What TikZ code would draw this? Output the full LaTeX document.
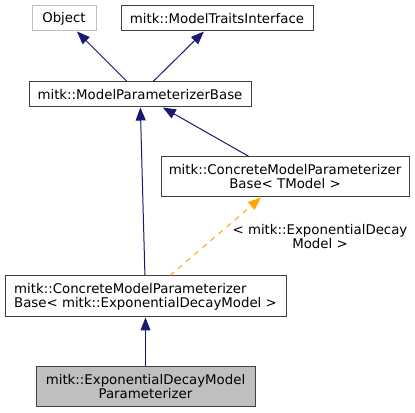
\documentclass[tikz,border=0pt]{standalone}
\usepackage{fontspec}
\setmainfont{DejaVu Sans}
\usepackage{xcolor}
\usepackage{tikz}
\usetikzlibrary{arrows.meta, positioning}
\definecolor{edgeblue}{HTML}{191970}
\definecolor{boxgray}{HTML}{404040}
\definecolor{nodegray}{HTML}{BFBFBF}
\definecolor{dashorange}{HTML}{FFA500}

\begin{document}
\begin{tikzpicture}[x=0.75pt, y=-0.75pt,
        every node/.style={draw=boxgray,
        fill=white,
        line width=0.75pt,
        inner sep=0pt,
        minimum height=18.75pt,
        align=center,
        font=\fontsize{10}{10.5}\selectfont},
        inherit/.style={draw=edgeblue, line width=0.75pt, -{Triangle[length=9.75pt,width=7.5pt]}},
        template/.style={draw=dashorange, line width=0.75pt, dash pattern=on 4pt off 4pt, -{Triangle[length=9.75pt,width=7.5pt]}}]
        \useasboundingbox (0,0) rectangle (415,413);
        \node[draw=nodegray, minimum width=48pt] (obj) at (64,18.5) {Object};
        \node[right=18pt of obj, minimum width=144pt] (mti) {mitk::ModelTraitsInterface};
        \node[minimum width=166.5pt] (mpb) at (140,94.5) {mitk::ModelParameterizerBase};
        \node[minimum width=186pt, minimum height=30pt] (cmpt) at (285,177) {mitk::ConcreteModelParameterizer\\Base< TModel >};
        \node[minimum width=210.75pt, minimum height=30.75pt, align=left] (cmpe) at (145.5,296.5) {mitk::ConcreteModelParameterizer\\Base< mitk::ExponentialDecayModel >};
        \node[fill=nodegray, minimum width=164.25pt, minimum height=30pt] (edmp) at (145.5,387) {mitk::ExponentialDecayModel\\Parameterizer};
        \draw[inherit] (mpb) -- (obj);
        \draw[inherit] (mpb) -- (mti);
        \draw[inherit] (cmpe) -- (mpb);
        \draw[inherit] (cmpt) -- (mpb);
        \draw[template] (cmpe) -- (cmpt);
        \draw[inherit] (edmp) -- (cmpe);
        \begin{scope}[every node/.style={draw=none, fill=none, inner sep=0pt, align=center, font=\fontsize{10}{10.5}\selectfont}]
            \node (tlabel) at (320,237) {< mitk::ExponentialDecay\\Model >};
        \end{scope}
    \end{tikzpicture}
\end{document}
